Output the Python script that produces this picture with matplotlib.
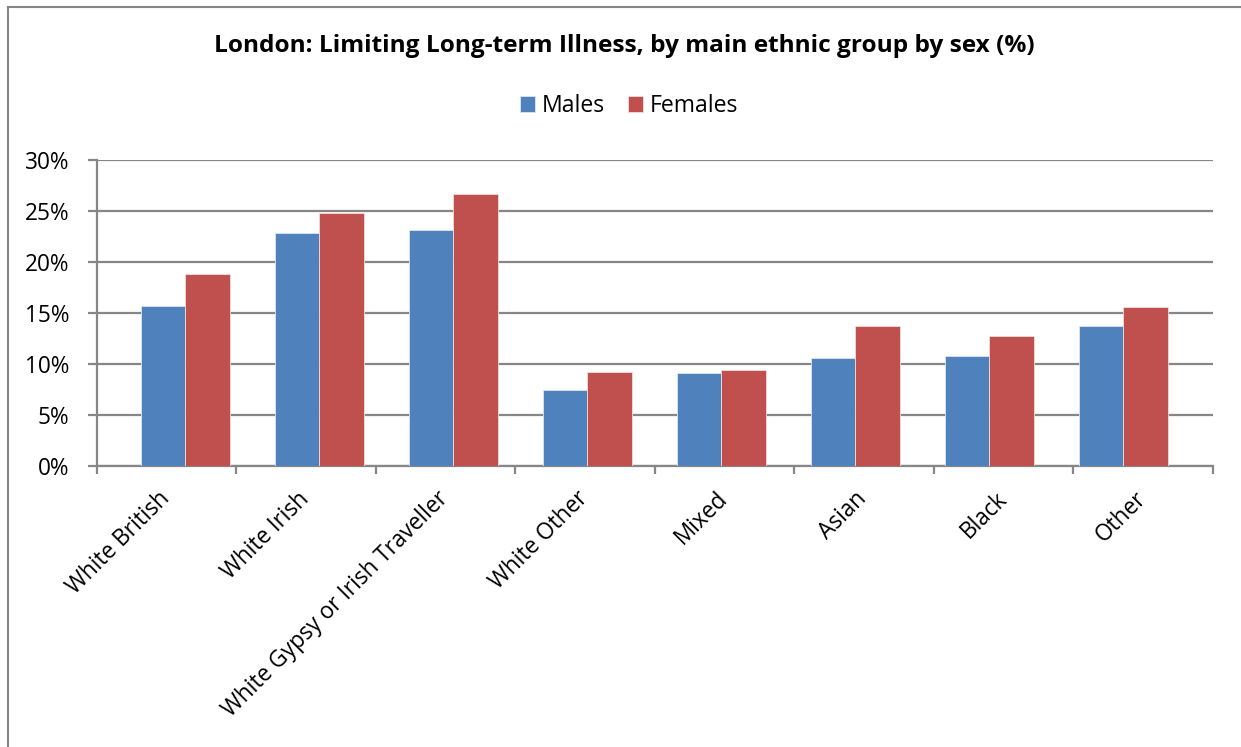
import matplotlib
matplotlib.use("Agg")
import matplotlib.pyplot as plt
import matplotlib.transforms as mtransforms
import numpy as np
from matplotlib.lines import Line2D
from matplotlib.ticker import FixedLocator, NullFormatter

categories = ["White British", "White Irish", "White Gypsy or Irish Traveller",
              "White Other", "Mixed", "Asian", "Black", "Other"]
males = [15.7, 22.8, 23.1, 7.5, 9.1, 10.6, 10.8, 13.7]
females = [18.8, 24.8, 26.7, 9.2, 9.4, 13.7, 12.7, 15.6]
series_names = ["Males", "Females"]
yticks = [0, 5, 10, 15, 20, 25, 30]
ytick_labels = ["0%", "5%", "10%", "15%", "20%", "25%", "30%"]
title = "London: Limiting Long-term Illness, by main ethnic group by sex (%)"

FONT = ['Open Sans', 'DejaVu Sans']
plt.rcParams['font.family'] = FONT

W, H = 1241, 747
fig = plt.figure(figsize=(W / 100, H / 100), dpi=100)
renderer = fig.canvas.get_renderer()


def fit_size(text, target_px, weight="normal"):
    t = fig.text(0, 0, text, fontsize=10, fontweight=weight)
    w = t.get_window_extent(renderer).width
    t.remove()
    return 10 * target_px / w


ax_left, ax_right, ax_top, ax_bottom = 96.7, 1213, 160, 466
ax = fig.add_axes([ax_left / W, 1 - ax_bottom / H, (ax_right - ax_left) / W, (ax_bottom - ax_top) / H])

grid_c = "#868686"
blue = "#4F81BD"
red = "#C0504D"

# bar group spacing (px) and first group centre (px) as seen in the reference
period_px = 134.0
first_px = 185.4
x = np.arange(len(categories))
x0 = (ax_left - first_px) / period_px
x1 = (ax_right - first_px) / period_px
bw = 44.5 / period_px

ax.bar(x - bw / 2, males, bw, color=blue, edgecolor="#dce6f2", linewidth=0.6, label=series_names[0], zorder=3)
ax.bar(x + bw / 2, females, bw, color=red, edgecolor="#f2dcdb", linewidth=0.6, label=series_names[1], zorder=3)

ax.set_xlim(x0, x1)
ax.set_ylim(0, 30)

fs = fit_size("30%", 44.7)
ax.set_yticks(yticks)
ax.set_yticklabels(ytick_labels, fontsize=fs)
ax.yaxis.grid(True, color=grid_c, linewidth=1.6, zorder=0)
ax.set_axisbelow(True)

n = len(categories)
bounds = np.linspace(x0, x1, n + 1)
mids = (bounds[:-1] + bounds[1:]) / 2
ax.set_xticks(mids)
ax.set_xticklabels(categories, rotation=45, ha="right", va="top", rotation_mode="anchor", fontsize=fs)
ax.tick_params(axis="x", which="major", length=0, pad=15)
off = mtransforms.ScaledTranslation(-9 / 100, 0, fig.dpi_scale_trans)
for lab in ax.get_xticklabels():
    lab.set_transform(lab.get_transform() + off)
ax.xaxis.set_minor_locator(FixedLocator(bounds))
ax.xaxis.set_minor_formatter(NullFormatter())
ax.tick_params(axis="x", which="minor", length=6, width=1.6, color=grid_c, direction="out")
ax.tick_params(axis="y", length=6.5, width=1.6, color=grid_c, pad=13)

for s in ["top", "right"]:
    ax.spines[s].set_visible(False)
for s in ["left", "bottom"]:
    ax.spines[s].set_color(grid_c)
    ax.spines[s].set_linewidth(1.6)

tfs = fit_size(title, 820, weight="bold")
fig.text(624 / W, 1 - 46 / H, title, ha="center", va="center", fontsize=tfs, fontweight="bold")

lfs = fit_size("Males", 63)
px = lfs * 100 / 72
leg = fig.legend(loc="center", bbox_to_anchor=(629 / W, 1 - 106 / H), ncol=2, frameon=False,
                 fontsize=lfs, handlelength=15 / px, handleheight=15 / px, handletextpad=7 / px,
                 columnspacing=23 / px, borderpad=0, borderaxespad=0)

# chart border
fig.add_artist(Line2D([8 / W, 8 / W], [0, 1 - 7 / H], color=grid_c, linewidth=1.5))
fig.add_artist(Line2D([8 / W, 1], [1 - 7 / H, 1 - 7 / H], color=grid_c, linewidth=1.5))

fig.savefig("out.png", dpi=100)
